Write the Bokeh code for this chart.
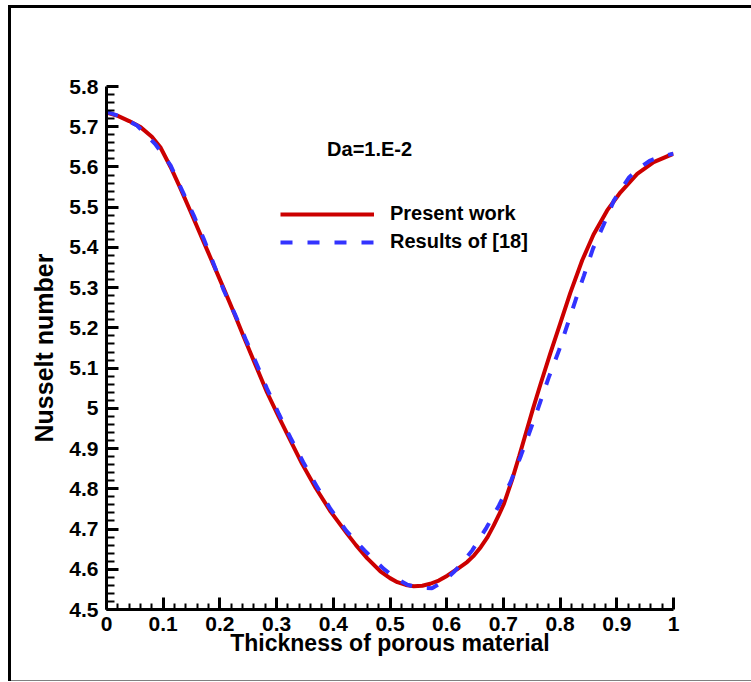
from bokeh.plotting import figure
from bokeh.models import Range1d, FixedTicker, Legend, LegendItem, Label
from bokeh.embed import file_html
from bokeh.resources import INLINE

# Average Nusselt number vs. porous layer thickness, Da = 1.E-2
present_x = [0.0, 0.02, 0.04, 0.06, 0.08, 0.095, 0.113, 0.13, 0.148, 0.163,
             0.178, 0.193, 0.207, 0.2246, 0.242, 0.263, 0.283, 0.304, 0.3245,
             0.345, 0.369, 0.395, 0.4245, 0.44, 0.46, 0.483, 0.50, 0.513,
             0.528, 0.542, 0.557, 0.571, 0.586, 0.601, 0.618, 0.636, 0.648,
             0.66, 0.672, 0.683, 0.692, 0.701, 0.715, 0.728, 0.74, 0.752,
             0.765, 0.783, 0.80, 0.818, 0.839, 0.859, 0.883, 0.9065, 0.936,
             0.965, 1.0]
present_nu = [5.735, 5.727, 5.714, 5.699, 5.675, 5.649, 5.600, 5.548, 5.490,
              5.441, 5.392, 5.343, 5.297, 5.238, 5.178, 5.107, 5.040, 4.978,
              4.920, 4.862, 4.802, 4.744, 4.688, 4.660, 4.627, 4.595, 4.578,
              4.568, 4.561, 4.558, 4.559, 4.564, 4.572, 4.584, 4.600, 4.618,
              4.634, 4.655, 4.680, 4.709, 4.735, 4.763, 4.821, 4.882, 4.940,
              4.998, 5.058, 5.138, 5.210, 5.287, 5.368, 5.432, 5.492, 5.537,
              5.583, 5.612, 5.633]

ref_x = [0.0, 0.025, 0.054, 0.086, 0.113, 0.1335, 0.154, 0.1716, 0.189, 0.207,
         0.2275, 0.245, 0.2646, 0.283, 0.304, 0.3245, 0.347, 0.37, 0.395,
         0.4227, 0.455, 0.489, 0.51, 0.530, 0.55, 0.574, 0.595, 0.6125,
         0.63, 0.645, 0.670, 0.692, 0.7125, 0.731, 0.755, 0.780, 0.798,
         0.8125, 0.827, 0.842, 0.858, 0.876, 0.895, 0.921, 0.94, 0.959, 0.98,
         1.0]
ref_nu = [5.737, 5.725, 5.703, 5.657, 5.604, 5.541, 5.479, 5.421, 5.359, 5.293,
          5.231, 5.173, 5.111, 5.049, 4.986, 4.927, 4.866, 4.808, 4.750,
          4.696, 4.647, 4.601, 4.578, 4.562, 4.554, 4.553, 4.570, 4.593,
          4.620, 4.647, 4.703, 4.758, 4.816, 4.883, 4.975, 5.077, 5.144,
          5.206, 5.268, 5.330, 5.397, 5.454, 5.517, 5.573, 5.598, 5.616, 5.627,
          5.633]

x_ticks = [0.0, 0.1, 0.2, 0.3, 0.4, 0.5, 0.6, 0.7, 0.8, 0.9, 1.0]
x_tick_labels = ["0", "0.1", "0.2", "0.3", "0.4", "0.5", "0.6", "0.7", "0.8",
                 "0.9", "1"]
y_ticks = [4.5, 4.6, 4.7, 4.8, 4.9, 5.0, 5.1, 5.2, 5.3, 5.4, 5.5, 5.6, 5.7, 5.8]
y_tick_labels = ["4.5", "4.6", "4.7", "4.8", "4.9", "5", "5.1", "5.2", "5.3",
                 "5.4", "5.5", "5.6", "5.7", "5.8"]

FONT = "Liberation Sans"
RED = "#cc0000"
BLUE = "#3333ff"

p = figure(frame_width=567, frame_height=523,
           min_border_left=106, min_border_right=78,
           min_border_top=86, min_border_bottom=73,
           x_range=Range1d(0, 1), y_range=Range1d(4.5, 5.8),
           output_backend="svg", toolbar_location=None)

p.xgrid.visible = False
p.ygrid.visible = False
p.outline_line_color = None
p.background_fill_color = "white"
p.border_fill_alpha = 0

# page frame: thick black rules on the left and top, thin grey rule at the bottom
p.styles = {
    "background": ("linear-gradient(#000, #000) 8px 5px / 3px 676px no-repeat, "
                   "linear-gradient(#000, #000) 8px 5px / 743px 3px no-repeat, "
                   "linear-gradient(#808080, #808080) 8px 680px / 743px 1px no-repeat, "
                   "#ffffff"),
}

# axes: inward ticks, bold labels
x_minor = [round(i * 0.02, 2) for i in range(51) if i % 5]
y_minor = [round(4.5 + i * 0.02, 2) for i in range(66) if i % 5]
p.xaxis.ticker = FixedTicker(ticks=x_ticks, minor_ticks=x_minor)
p.yaxis.ticker = FixedTicker(ticks=y_ticks, minor_ticks=y_minor)
p.xaxis.major_label_overrides = {t: s for t, s in zip(x_ticks, x_tick_labels)}
p.yaxis.major_label_overrides = {t: s for t, s in zip(y_ticks, y_tick_labels)}

for ax in (p.xaxis[0], p.yaxis[0]):
    ax.axis_line_width = 3
    ax.axis_line_color = "black"
    ax.major_tick_line_width = 3
    ax.major_tick_line_color = "black"
    ax.minor_tick_line_width = 2
    ax.minor_tick_line_color = "black"
    ax.major_tick_in = 12
    ax.major_tick_out = 0
    ax.minor_tick_out = 0
    ax.major_label_text_font = FONT
    ax.major_label_text_font_style = "bold"
    ax.major_label_text_font_size = "21px"
    ax.major_label_text_color = "black"
    ax.axis_label_text_font = FONT
    ax.axis_label_text_font_style = "bold"
    ax.axis_label_text_color = "black"

p.xaxis.minor_tick_in = 6
p.yaxis.minor_tick_in = 8
p.xaxis.major_label_standoff = 7
p.yaxis.major_label_standoff = 8
p.xaxis.axis_label = "Thickness of porous material"
p.xaxis.axis_label_text_font_size = "23px"
p.xaxis.axis_label_standoff = -4
p.yaxis.axis_label = "Nusselt number"
p.yaxis.axis_label_text_font_size = "25px"
p.yaxis.axis_label_standoff = 8

r_present = p.line(present_x, present_nu, line_color=RED, line_width=4)
r_ref = p.line(ref_x, ref_nu, line_color=BLUE, line_width=4,
               line_dash="12 15")

legend = Legend(items=[LegendItem(label="Present work", renderers=[r_present]),
                       LegendItem(label="Results of [18]", renderers=[r_ref])],
                location=(174, 356), orientation="vertical",
                glyph_width=94, glyph_height=20, label_height=20,
                label_standoff=16, spacing=5, padding=0, margin=0,
                border_line_color=None, background_fill_alpha=0,
                label_text_font=FONT, label_text_font_style="bold",
                label_text_font_size="20px", label_text_color="black")
p.add_layout(legend, "center")

p.add_layout(Label(x=0.389, y=5.645, text="Da=1.E-2", text_font=FONT,
                   text_font_style="bold", text_font_size="20px",
                   text_color="black", text_baseline="alphabetic"))

open("out.html", "w").write(file_html(p, INLINE))
